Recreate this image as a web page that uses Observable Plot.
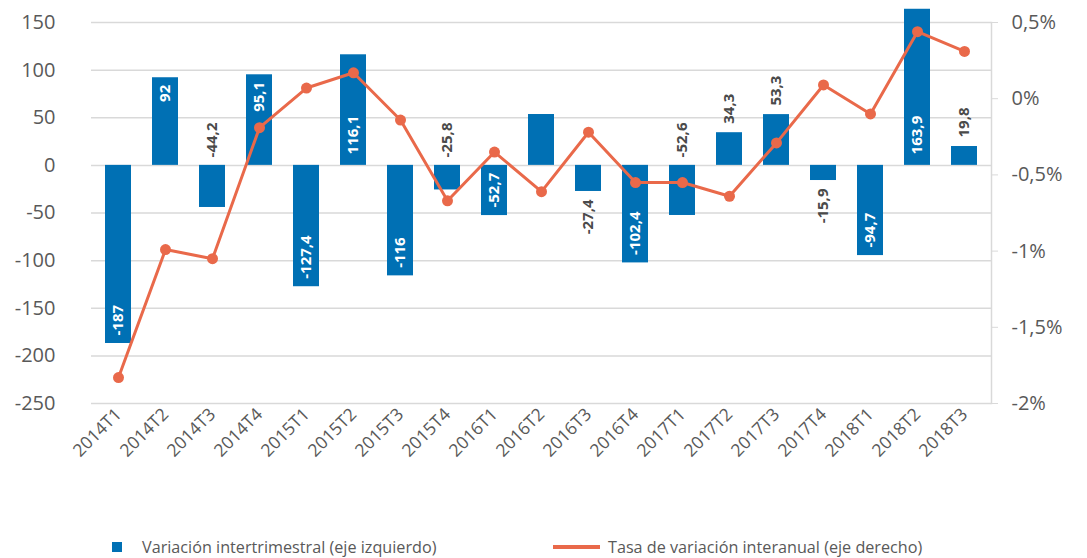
<!DOCTYPE html>
<html>
<head>
<meta charset="utf-8">
<script src="https://cdn.jsdelivr.net/npm/d3@7"></script>
<script src="https://cdn.jsdelivr.net/npm/@observablehq/plot@0.6"></script>
<style>
  html, body { margin: 0; padding: 0; background: #fff; }
  body { width: 1087px; height: 558px; position: relative; font-family: "Open Sans", sans-serif; overflow: hidden; }
  #chart { position: absolute; left: 0; top: 0; }
  .leg { position: absolute; font-size: 16.2px; color: #595959; line-height: 20px; white-space: nowrap; }
  .sw-sq { position: absolute; width: 10px; height: 10px; background: #0070b4; }
  .sw-ln { position: absolute; width: 47px; height: 4px; background: #e9694a; }
</style>
</head>
<body>
<div id="chart"></div>
<div class="sw-sq" style="left:112px; top:542px;"></div>
<div class="leg" style="left:142px; top:537px;">Variación intertrimestral (eje izquierdo)</div>
<div class="sw-ln" style="left:553px; top:545px;"></div>
<div class="leg" style="left:608px; top:537px;">Tasa de variación interanual (eje derecho)</div>
<script>
// ---- Data ----
const quarters = ["2014T1","2014T2","2014T3","2014T4","2015T1","2015T2","2015T3","2015T4",
  "2016T1","2016T2","2016T3","2016T4","2017T1","2017T2","2017T3","2017T4","2018T1","2018T2","2018T3"];
const quarterlyChange = [-187, 92, -44.2, 95.1, -127.4, 116.1, -116, -25.8, -52.7, 53.4,
  -27.4, -102.4, -52.6, 34.3, 53.3, -15.9, -94.7, 163.9, 19.8];
const annualRate = [-1.83, -0.99, -1.05, -0.19, 0.07, 0.17, -0.14, -0.67, -0.35, -0.61,
  -0.22, -0.55, -0.55, -0.64, -0.29, 0.09, -0.10, 0.44, 0.31];
const leftTicks = [-250, -200, -150, -100, -50, 0, 50, 100, 150];
const rightTicks = [-2, -1.5, -1, -0.5, 0, 0.5];

// ---- Chart ----
const labelPlacement = ["inEnd","inEnd","outBase","inEnd","inEnd","inBase","inEnd","outBase","inEnd",null,
  "outEnd","inEnd","outBase","outEnd","outEnd","outEnd","inEnd","inBase","outEnd"];

const data = quarters.map((q, i) => ({
  q, v: quarterlyChange[i], rate: annualRate[i], place: labelPlacement[i],
  label: String(quarterlyChange[i]).replace(".", ",")
}));

// right axis (%) mapped onto left axis units: 0.5% -> 150, -2% -> -250
const toLeft = p => 150 + (p - 0.5) * 160;
const fromLeft = v => Math.round(((v - 150) / 160 + 0.5) * 100) / 100;
const fmtPct = p => String(p).replace(".", ",") + "%";

const blue = "#0070b4", orange = "#e9694a", dark = "#4a4a4a", grid = "#d9d9d9";
const lblFont = {fontSize: 15, fontWeight: "bold", rotate: -90, text: "label"};
const sel = (pl, pos) => data.filter(d => d.place === pl && (pos ? d.v > 0 : d.v < 0));

const chart = Plot.plot({
  width: 1087,
  height: 470,
  marginLeft: 91,
  marginRight: 96,
  marginTop: 22,
  marginBottom: 67,
  style: {fontFamily: "'Open Sans', sans-serif", color: "#595959", background: "transparent"},
  x: {type: "band", domain: quarters, paddingInner: 0.45, paddingOuter: 0.225},
  y: {domain: [-250, 150]},
  marks: [
    Plot.gridY(leftTicks, {stroke: grid, strokeOpacity: 1, strokeWidth: 1.5}),
    Plot.frame({anchor: "right", stroke: grid, strokeWidth: 1.5}),
    Plot.axisY(leftTicks, {anchor: "left", tickSize: 0, tickPadding: 36, fontSize: 20,
      fill: "#595959", tickFormat: d => String(d), label: null}),
    Plot.axisY(rightTicks.map(toLeft), {anchor: "right", tickSize: 6, tickPadding: 14, fontSize: 20,
      stroke: grid, fill: "#595959", tickFormat: v => fmtPct(fromLeft(v)), label: null}),
    Plot.axisX({tickRotate: -45, tickSize: 0, tickPadding: 8, fontSize: 17.5, fill: "#595959", label: null}),
    Plot.barY(data, {x: "q", y: "v", fill: blue}),
    // labels inside the bar end
    Plot.text(sel("inEnd", true), {x: "q", y: "v", ...lblFont, textAnchor: "end", dy: 7, fill: "white"}),
    Plot.text(sel("inEnd", false), {x: "q", y: "v", ...lblFont, textAnchor: "start", dy: -8, fill: "white"}),
    // labels inside near the base
    Plot.text(sel("inBase", true), {x: "q", y: 0, ...lblFont, textAnchor: "start", dy: -11, fill: "white"}),
    // labels outside above the zero line
    Plot.text(sel("outBase", false), {x: "q", y: 0, ...lblFont, textAnchor: "start", dy: -8, fill: dark}),
    // labels outside beyond the bar end
    Plot.text(sel("outEnd", true), {x: "q", y: "v", ...lblFont, textAnchor: "start", dy: -9, fill: dark}),
    Plot.text(sel("outEnd", false), {x: "q", y: "v", ...lblFont, textAnchor: "end", dy: 8, fill: dark}),
    // line on right axis
    Plot.line(data, {x: "q", y: d => toLeft(d.rate), stroke: orange, strokeWidth: 3}),
    Plot.dot(data, {x: "q", y: d => toLeft(d.rate), r: 5.5, fill: orange})
  ]
});
document.getElementById("chart").appendChild(chart);
</script>
</body>
</html>
